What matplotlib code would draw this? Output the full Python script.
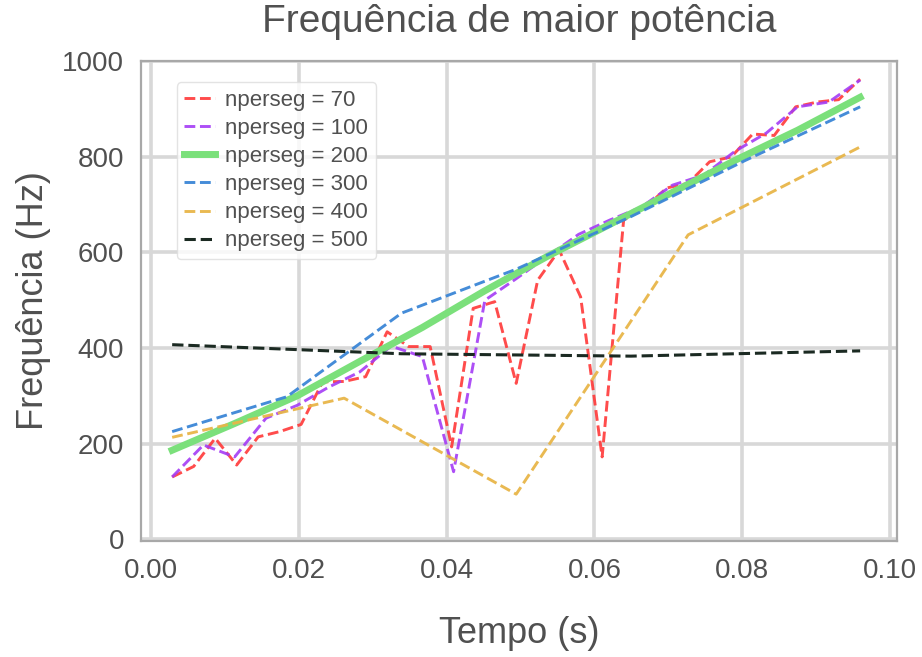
import matplotlib
matplotlib.use("Agg")
import matplotlib.pyplot as plt

plt.rcParams['font.family'] = ['Liberation Sans', 'DejaVu Sans']

# Peak-power frequency over time for several window lengths
t70 = [0.00287, 0.00578, 0.00869, 0.01160, 0.01451, 0.01742, 0.02032, 0.02323,
       0.02614, 0.02905, 0.03196, 0.03487, 0.03778, 0.04069, 0.04360, 0.04651,
       0.04942, 0.05233, 0.05524, 0.05814, 0.06105, 0.06396, 0.06687, 0.06978,
       0.07269, 0.07560, 0.07851, 0.08142, 0.08433, 0.08724, 0.09015, 0.09305,
       0.09596]
f70 = [130, 152, 211, 155, 214, 225, 240, 329, 330, 340, 434, 403, 403, 193,
       483, 497, 326, 542, 605, 507, 172, 668, 694, 735, 745, 790, 800, 848,
       845, 905, 915, 920, 963]

t100 = [0.00287, 0.00710, 0.01133, 0.01556, 0.01979, 0.02403, 0.02826, 0.03249,
        0.03672, 0.04095, 0.04518, 0.04941, 0.05364, 0.05787, 0.06210, 0.06633,
        0.07057, 0.07480, 0.07903, 0.08326, 0.08749, 0.09172, 0.09596]
f100 = [130, 197, 172, 253, 280, 318, 350, 404, 382, 141, 500, 545, 592, 638,
        668, 695, 741, 762, 812, 850, 905, 915, 961]

t200 = [0.00287, 0.01133, 0.01980, 0.02826, 0.03672, 0.04519, 0.05365, 0.06211,
        0.07057, 0.07904, 0.08750, 0.09596]
f200 = [186, 242, 300, 372, 443, 520, 592, 659, 726, 793, 856, 925]

t300 = [0.00287, 0.01839, 0.03390, 0.04942, 0.06493, 0.08045, 0.09596]
f300 = [225, 298, 473, 565, 675, 793, 905]

t400 = [0.00287, 0.02614, 0.04942, 0.07269, 0.09596]
f400 = [213, 295, 94, 637, 821]

t500 = [0.00287, 0.03390, 0.06493, 0.09596]
f500 = [407, 388, 383, 394]

labels = ['nperseg = 70', 'nperseg = 100', 'nperseg = 200',
          'nperseg = 300', 'nperseg = 400', 'nperseg = 500']
xticks = [0.00, 0.02, 0.04, 0.06, 0.08, 0.10]
yticks = [0, 200, 400, 600, 800, 1000]

text_color = '#505050'

fig = plt.figure(figsize=(9.22, 6.57), dpi=100)
ax = fig.add_axes([0.1529, 0.1766, 0.8200, 0.7306])

ax.plot(t70, f70, '--', color='#ff3838', lw=2.1, alpha=0.9, label=labels[0])
ax.plot(t100, f100, '--', color='#a43cf5', lw=2.1, alpha=0.9, label=labels[1])
ax.plot(t200, f200, '-', color='#7be07b', lw=5, label=labels[2])
ax.plot(t300, f300, '--', color='#3b86d6', lw=2.1, alpha=0.95, label=labels[3])
ax.plot(t400, f400, '--', color='#e8b649', lw=2.1, alpha=0.95, label=labels[4])
ax.plot(t500, f500, '--', color='#1b2a22', lw=2.2, label=labels[5])

ax.set_xlim(-0.00135, 0.10095)
ax.set_ylim(-4, 1001)
ax.set_xticks(xticks)
ax.set_xticklabels([f'{v:.2f}' for v in xticks])
ax.set_yticks(yticks)
ax.set_yticklabels([str(v) for v in yticks])

ax.grid(True, color='#d8d8d8', lw=2.6)
ax.set_axisbelow(True)
for sp in ax.spines.values():
    sp.set_color('#a8a8a8')
    sp.set_linewidth(1.6)

ax.tick_params(length=0, pad=12, labelsize=20, labelcolor=text_color)

ax.set_title('Frequência de maior potência', fontsize=28, color=text_color, pad=21)
ax.set_xlabel('Tempo (s)', fontsize=26, color=text_color, labelpad=23)
ax.set_ylabel('Frequência (Hz)', fontsize=26, color=text_color, labelpad=8)

leg = ax.legend(loc='upper left', bbox_to_anchor=(0.047, 0.956), borderaxespad=0,
                fontsize=16, handlelength=1.4, handletextpad=0.45,
                labelspacing=0.32, borderpad=0.35, frameon=True, fancybox=True)
leg.get_frame().set_edgecolor('#dddddd')
leg.get_frame().set_linewidth(1.0)
for txt in leg.get_texts():
    txt.set_color(text_color)

fig.savefig('out.png', dpi=100)
